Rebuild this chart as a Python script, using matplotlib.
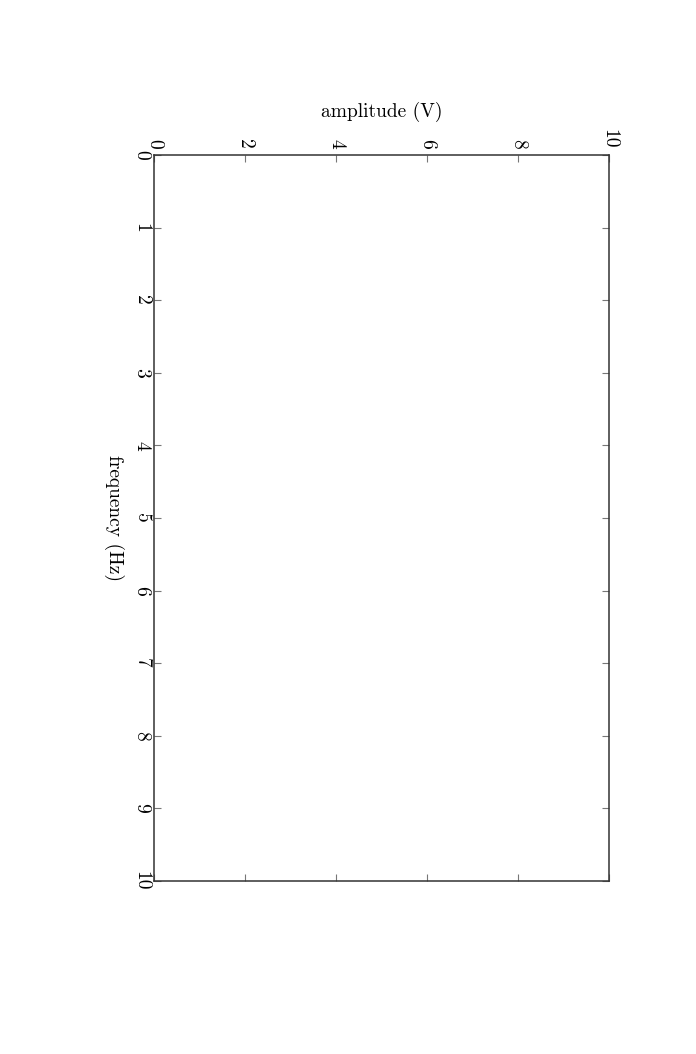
import matplotlib
matplotlib.use("Agg")
import matplotlib.pyplot as plt

# Axis definitions
amplitude_ticks = [0, 2, 4, 6, 8, 10]
amplitude_labels = ["0", "2", "4", "6", "8", "10"]
frequency_ticks = [0, 1, 2, 3, 4, 5, 6, 7, 8, 9, 10]
frequency_labels = ["0", "1", "2", "3", "4", "5", "6", "7", "8", "9", "10"]
amplitude_label = "amplitude (V)"
frequency_label = "frequency (Hz)"

plt.rcParams["font.family"] = ["cmr10", "DejaVu Serif"]
plt.rcParams["axes.formatter.use_mathtext"] = True

fig = plt.figure(figsize=(6.96, 10.54), dpi=100)
W, H = 696, 1054
left, right, top, bottom = 154, 609, 155, 881
ax = fig.add_axes([left / W, 1 - bottom / H, (right - left) / W, (bottom - top) / H])

ax.set_xlim(0, 10)
ax.set_ylim(10, 0)

ax.xaxis.set_ticks_position("both")
ax.xaxis.set_label_position("top")
ax.yaxis.set_ticks_position("both")

ax.set_xticks(amplitude_ticks)
ax.set_xticklabels(amplitude_labels, rotation=-90, fontsize=14)
ax.set_yticks(frequency_ticks)
ax.set_yticklabels(frequency_labels, rotation=-90, fontsize=14, va="center")

ax.tick_params(axis="x", which="both", direction="in", length=5, width=0.8,
               color="#777777", labeltop=True, labelbottom=False, pad=4.5)
ax.tick_params(axis="y", which="both", direction="in", length=5, width=0.8,
               color="#777777", labelleft=True, labelright=False, pad=2.5)

for s in ax.spines.values():
    s.set_linewidth(1.1)
    s.set_color("#333333")

ax.set_xlabel(amplitude_label, fontsize=14)
ax.xaxis.set_label_coords(0.5, 1 + (155 - 112) / (bottom - top))
ax.xaxis.label.set_va("center")
ax.set_ylabel(frequency_label, fontsize=14, rotation=-90)
ax.yaxis.set_label_coords(-(154 - 114) / (right - left), 0.5)
ax.yaxis.label.set_va("center")

fig.savefig("out.png", dpi=100)
